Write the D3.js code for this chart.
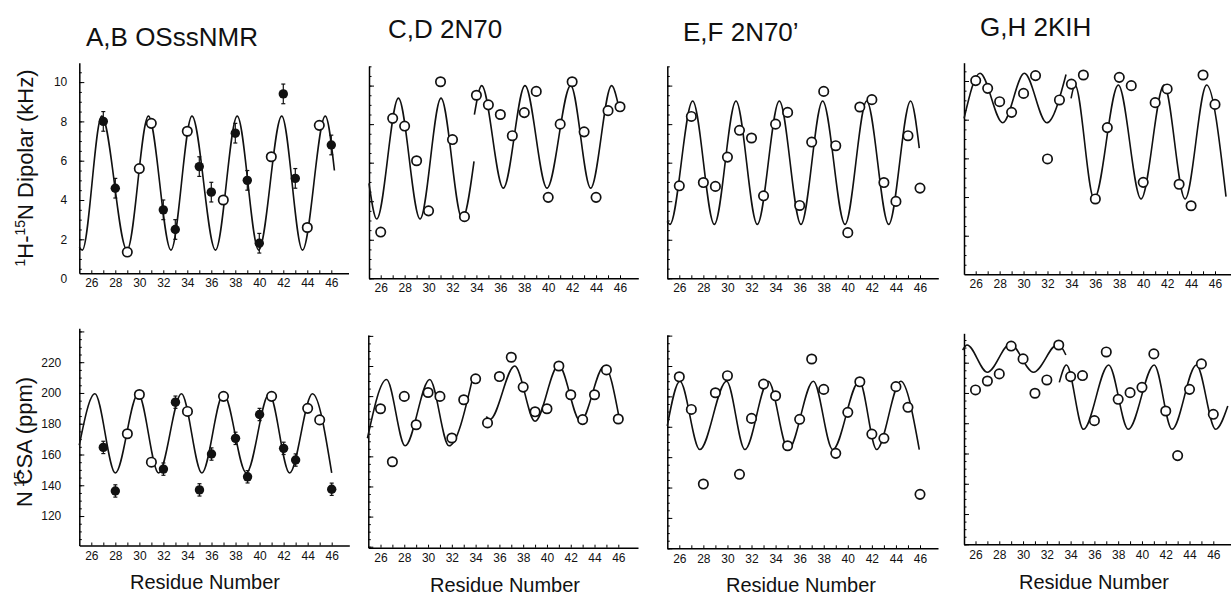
<!DOCTYPE html>
<html>
<head>
<meta charset="utf-8">
<script src="https://cdn.jsdelivr.net/npm/d3@7"></script>
<style>
  body { margin: 0; background: #fff; }
  text { font-family: "Liberation Sans", Arial, sans-serif; fill: #111; }
</style>
</head>
<body>
<svg width="1231" height="597"></svg>
<script>
// ---- data ----
const residues = [26,27,28,29,30,31,32,33,34,35,36,37,38,39,40,41,42,43,44,45,46];
const dipLabels = [0,2,4,6,8,10];
const csaLabels = [120,140,160,180,200,220];
const titles = ["A,B OSssNMR", "C,D 2N70", "E,F 2N70\u2019", "G,H 2KIH"];

// A,B OSssNMR : filled = measured with error bars, open = other
const abFilledRes = [27,28,32,33,35,36,38,39,40,42,43,46];
const abOpenRes = [29,30,31,34,37,41,44,45];
const abDipFilled = [8.0,4.6,3.5,2.5,5.7,4.4,7.4,5.0,1.8,9.4,5.1,6.8];
const abDipErr = [0.5,0.5,0.5,0.5,0.5,0.5,0.5,0.5,0.5,0.5,0.5,0.5];
const abDipOpen = [1.35,5.6,7.9,7.5,4.0,6.2,2.6,7.8];
const abCsaFilled = [164.6,136.3,150.5,194,137,160.3,170.5,145.5,186,164,156.4,137.4];
const abCsaErr = [4,4,4,4,4,4,4,4,4,4,4,4];
const abCsaOpen = [173.5,199,155,188,197.8,197.8,190,182.5];

// fits: extrema of the drawn wave (residue, value)
const abDipFitX = [25.0,25.25,26.87,28.98,30.76,32.64,34.39,36.35,38.16,39.95,41.87,43.6,45.5,46.26];
const abDipFitY = [1.6,1.45,8.27,1.45,8.27,1.45,8.27,1.45,8.27,1.45,8.27,1.45,8.27,5.5];
const abCsaFitX = [25.0,26.3,28.0,29.9,31.6,33.5,35.2,37.0,38.9,40.8,42.5,44.4,46.0];
const abCsaFitY = [166,199.5,148,199.5,148,199.5,148,199.5,148,199.5,148,199.5,148];

// C,D 2N70
const cdDip = [2.4,8.3,7.9,6.1,3.5,10.2,7.2,3.2,9.5,9.0,8.5,7.4,8.6,9.7,4.2,8.0,10.2,7.6,4.2,8.7,8.9];
const cdCsa = [191.6,156.4,199.8,181,202.4,199.8,172.2,197.6,211.5,182.2,213,225.8,206,189.6,191.6,220,200.9,184.4,200.9,217.4,184.8];
const cdDipFit1X = [25.02,25.67,27.48,29.29,31.04,32.82,33.8];
const cdDipFit1Y = [4.93,3.08,9.35,3.08,9.35,3.08,6.07];
const cdDipFit2X = [33.83,34.44,36.25,38.06,39.9,41.88,43.55,45.3,45.86];
const cdDipFit2Y = [8.49,10.0,4.68,10.0,4.68,10.0,4.68,10.0,9.0];
const cdCsaFit1X = [24.9,26.51,28.07,30.14,31.76,33.75];
const cdCsaFit1Y = [172,211,167,211,167,212];
const cdCsaFit2X = [34.9,35.2,37.29,39.0,40.98,42.82,44.83,46.09];
const cdCsaFit2Y = [186.5,184.5,220,183.3,220.5,183.3,220,184.8];

// E,F 2N70'
const efDip = [4.8,8.4,4.97,4.77,6.29,7.68,7.28,4.28,8.0,8.61,3.78,7.07,9.7,6.88,2.37,8.89,9.27,4.97,3.99,7.4,4.68];
const efCsa = [212.9,191.4,142.3,202.4,213.6,148.7,185.5,208.1,200.4,167.5,184.9,224.6,204.6,162.5,189.5,209.6,175.2,172.4,206.4,192.8,135.5];
const efDipFitX = [25.0,25.22,27.11,28.91,30.71,32.48,34.31,36.11,37.91,39.77,41.57,43.4,45.22,45.94];
const efDipFitY = [2.95,2.8,9.2,2.8,9.2,2.8,9.2,2.8,9.2,2.8,9.2,2.8,9.2,6.76];
const efCsaFitX = [25.0,26.05,27.7,29.93,31.45,33.4,35.06,37.14,38.75,40.96,42.4,44.4,45.94];
const efCsaFitY = [180.5,210,165,210,165,210,165,210,165,210,165,210,165];

// G,H 2KIH
const ghDip = [10.02,9.62,8.93,8.38,9.36,10.28,5.97,9.02,9.84,10.31,3.9,7.59,10.19,9.76,4.76,8.88,9.59,4.66,3.55,10.31,8.79];
const ghCsa = [202,207.9,212.6,231,222.5,199.8,208.6,231.7,210.8,211.5,181.7,227.1,195.8,200.2,203.7,225.8,188.1,158.6,202.4,219.2,185.9];
const ghDipFit1X = [25.03,26.36,28.26,30.07,31.94,33.55];
const ghDipFit1Y = [8.07,10.4,7.84,10.4,7.84,10.34];
const ghDipFit2X = [33.97,34.3,35.9,37.92,39.82,41.74,43.5,45.3,46.92];
const ghDipFit2Y = [9.1,9.79,3.9,9.79,3.9,9.79,3.9,9.79,4.02];
const ghCsaFit1X = [24.92,25.29,27.0,28.92,30.88,32.95,33.6];
const ghCsaFit1Y = [228.4,231.7,213.7,232.4,213.7,232.4,225.1];
const ghCsaFit2X = [33.05,33.65,35.08,37.2,38.85,41.03,42.53,44.58,46.2,47.22];
const ghCsaFit2Y = [207,218.5,176,218.5,176,218.5,176,218.5,176,191.4];

// ---- layout (pixels) ----
const rowTop = {v0: 0, v1: 10, minorStep: 0.5, majorStep: 2, labels: dipLabels, xPad: 5};
const rowBot = {v0: 100, v1: 220, minorStep: 5, majorStep: 20, labels: csaLabels, xPad: 6};

const panels = [
  {row: rowTop, left: 79.3, right: 348.5, x26: 91.3, x46: 331.3, top: 62.7, bottom: 273.3, p0: 278.6, p1: 82.1, yPad: 12, showY: true,
   open: abOpenRes.map((r, i) => [r, abDipOpen[i]]),
   filled: abFilledRes.map((r, i) => [r, abDipFilled[i], abDipErr[i]]),
   fits: [[abDipFitX, abDipFitY]]},
  {row: rowTop, left: 369, right: 638.3, x26: 380.7, x46: 620, top: 66, bottom: 278.3, p0: 278.3, p1: 85.6,
   open: residues.map((r, i) => [r, cdDip[i]]), filled: [],
   fits: [[cdDipFit1X, cdDipFit1Y], [cdDipFit2X, cdDipFit2Y]]},
  {row: rowTop, left: 667.3, right: 938.3, x26: 679.3, x46: 920, top: 66, bottom: 278.3, p0: 278.3, p1: 85.6,
   open: residues.map((r, i) => [r, efDip[i]]), filled: [],
   fits: [[efDipFitX, efDipFitY]]},
  {row: rowTop, left: 964, right: 1231, x26: 975.7, x46: 1215, top: 62.7, bottom: 274.3, p0: 274.4, p1: 81,
   open: residues.map((r, i) => [r, ghDip[i]]), filled: [],
   fits: [[ghDipFit1X, ghDipFit1Y], [ghDipFit2X, ghDipFit2Y]]},

  {row: rowBot, left: 79.3, right: 349.3, x26: 91.3, x46: 331.7, top: 328.3, bottom: 545.5, p0: 546.8, p1: 362.2, yPad: 18, showY: true,
   open: abOpenRes.map((r, i) => [r, abCsaOpen[i]]),
   filled: abFilledRes.map((r, i) => [r, abCsaFilled[i], abCsaErr[i]]),
   fits: [[abCsaFitX, abCsaFitY]]},
  {row: rowBot, left: 368.3, right: 638, x26: 380.5, x46: 618.3, top: 335, bottom: 547.7, p0: 546.7, p1: 366,
   open: residues.map((r, i) => [r, cdCsa[i]]), filled: [],
   fits: [[cdCsaFit1X, cdCsaFit1Y], [cdCsaFit2X, cdCsaFit2Y]]},
  {row: rowBot, left: 667.3, right: 938, x26: 679.3, x46: 920, top: 335, bottom: 548.3, p0: 548.3, p1: 366,
   open: residues.map((r, i) => [r, efCsa[i]]), filled: [],
   fits: [[efCsaFitX, efCsaFitY]]},
  {row: rowBot, left: 964, right: 1231, x26: 975.5, x46: 1213.3, top: 333.3, bottom: 544.3, p0: 544.3, p1: 362.7,
   open: residues.map((r, i) => [r, ghCsa[i]]), filled: [],
   fits: [[ghCsaFit1X, ghCsaFit1Y], [ghCsaFit2X, ghCsaFit2Y]]}
];

const svg = d3.select("svg");

function drawPanel(P) {
  const R = P.row;
  const xs = d3.scaleLinear().domain([26, 46]).range([P.x26, P.x46]);
  const x = d3.scaleLinear().domain([xs.invert(P.left), xs.invert(P.right)]).range([P.left, P.right]);
  const ys = d3.scaleLinear().domain([R.v0, R.v1]).range([P.p0, P.p1]);
  const y = d3.scaleLinear().domain([ys.invert(P.bottom), ys.invert(P.top)]).range([P.bottom, P.top]);
  const [lo, hi] = y.domain();

  const g = svg.append("g");

  // y ticks (inside), minor + major
  const minor = d3.range(Math.ceil(lo / R.minorStep - 1e-6) * R.minorStep, hi, R.minorStep);
  const major = minor.filter(v => Math.abs(v % R.majorStep) < 1e-6);
  g.append("g").attr("transform", `translate(${P.left},0)`)
    .call(d3.axisLeft(y).tickValues(minor).tickSize(-2.5).tickFormat(""))
    .call(a => a.select(".domain").remove());
  g.append("g").attr("transform", `translate(${P.left},0)`)
    .call(d3.axisLeft(y).tickValues(major).tickSizeInner(-5).tickSizeOuter(0).tickFormat(""))
    .call(a => a.select(".domain").attr("stroke-width", 1.5));
  if (P.showY) {
    g.append("g").attr("transform", `translate(${P.left},0)`)
      .call(d3.axisLeft(ys).tickValues(R.labels).tickSize(0).tickPadding(P.yPad))
      .call(a => a.select(".domain").remove())
      .selectAll("text").attr("font-size", 12).attr("font-family", "Liberation Sans, Arial");
  }

  // x axis
  g.append("g").attr("transform", `translate(0,${P.bottom})`)
    .call(d3.axisBottom(x).tickValues(residues.filter(r => x(r) <= P.right)).tickSizeInner(-3).tickSizeOuter(0)
      .tickPadding(R.xPad).tickFormat(d => d % 2 ? "" : d))
    .call(a => a.select(".domain").attr("stroke-width", 1.5))
    .selectAll("text").attr("font-size", 12).attr("font-family", "Liberation Sans, Arial");

  // fitted waves
  const line = d3.line().x(d => xs(d[0])).y(d => ys(d[1])).curve(d3.curveMonotoneX);
  P.fits.forEach(([fx, fy]) => {
    g.append("path").datum(fx.map((v, i) => [v, fy[i]]))
      .attr("d", line).attr("fill", "none").attr("stroke", "#111").attr("stroke-width", 1.6);
  });

  // error bars
  P.filled.forEach(([r, v, e]) => {
    const cx = xs(r);
    g.append("line").attr("x1", cx).attr("x2", cx).attr("y1", ys(v - e)).attr("y2", ys(v + e))
      .attr("stroke", "#111").attr("stroke-width", 1.2);
    [v - e, v + e].forEach(t => g.append("line").attr("x1", cx - 2).attr("x2", cx + 2)
      .attr("y1", ys(t)).attr("y2", ys(t)).attr("stroke", "#111").attr("stroke-width", 1.2));
  });

  g.selectAll("circle.open").data(P.open).join("circle").attr("class", "open")
    .attr("cx", d => xs(d[0])).attr("cy", d => ys(d[1])).attr("r", 4.7)
    .attr("fill", "#fff").attr("stroke", "#111").attr("stroke-width", 1.7);
  g.selectAll("circle.filled").data(P.filled).join("circle").attr("class", "filled")
    .attr("cx", d => xs(d[0])).attr("cy", d => ys(d[1])).attr("r", 4.7)
    .attr("fill", "#111");
}

panels.forEach(drawPanel);

// titles
const titlePos = [[86, 46], [388, 38], [683, 41], [980, 36]];
titles.forEach((t, i) => svg.append("text").attr("x", titlePos[i][0]).attr("y", titlePos[i][1])
  .attr("font-size", 26).text(t));

// x axis titles
[[205, 589], [505, 592], [801, 592], [1094, 589]].forEach(([cx, cy]) =>
  svg.append("text").attr("x", cx).attr("y", cy).attr("text-anchor", "middle")
    .attr("font-size", 20).text("Residue Number"));

// y axis titles
const yt1 = svg.append("text").attr("transform", "translate(33,168) rotate(-90)")
  .attr("text-anchor", "middle").attr("font-size", 22);
yt1.append("tspan").attr("font-size", 14).attr("dy", -8).text("1");
yt1.append("tspan").attr("dy", 8).text("H-");
yt1.append("tspan").attr("font-size", 14).attr("dy", -8).text("15");
yt1.append("tspan").attr("dy", 8).text("N Dipolar (kHz)");

const yt2 = svg.append("text").attr("transform", "translate(32,442) rotate(-90)")
  .attr("text-anchor", "middle").attr("font-size", 22);
yt2.append("tspan").text("N ");
yt2.append("tspan").attr("font-size", 14).attr("dx", -2).attr("dy", -8).text("15");
yt2.append("tspan").attr("dx", -13).attr("dy", 8).text("CSA (ppm)");
</script>
</body>
</html>
